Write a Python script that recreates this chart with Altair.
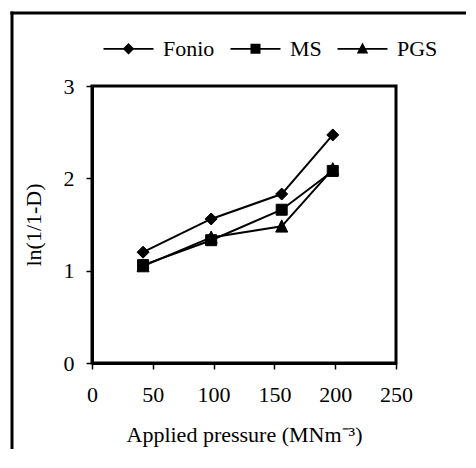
import altair as alt
import pandas as pd

series = ["Fonio", "MS", "PGS"]
pressure = [42, 98, 156, 198]
fonio = [1.20, 1.56, 1.83, 2.47]
ms = [1.06, 1.33, 1.66, 2.08]
pgs = [1.05, 1.36, 1.48, 2.10]

rows = []
for name, vals in zip(series, [fonio, ms, pgs]):
    for p, v in zip(pressure, vals):
        rows.append({"Series": name, "Pressure": p, "Value": v})
df = pd.DataFrame(rows)

FONT = "Liberation Serif"
FS = 22

x = alt.X("Pressure:Q", scale=alt.Scale(domain=[0, 250], nice=False),
          axis=alt.Axis(values=[0, 50, 100, 150, 200, 250], labelFlush=False,
                        title="Applied pressure (MNm\u207b\u00b3)"))
y = alt.Y("Value:Q", scale=alt.Scale(domain=[0, 3], nice=False),
          axis=alt.Axis(values=[0, 1, 2, 3], labelFlush=False, title="ln(1/1-D)"))

base = alt.Chart(df)

lines = base.mark_line(color="black", strokeWidth=2).encode(
    x=x, y=y, detail="Series:N", order="Pressure:Q")

pt_paths = [
    "M0,-1.2L1.2,0L0,1.2L-1.2,0Z",
    "M-1.1,-1.1L1.1,-1.1L1.1,1.1L-1.1,1.1Z",
    "M0,-1.3L1.2,1.15L-1.2,1.15Z",
]

points = base.mark_point(filled=True, fill="black", stroke="black", strokeWidth=1,
                         opacity=1, size=100).encode(
    x=x, y=y,
    shape=alt.Shape("Series:N",
                    scale=alt.Scale(domain=series, range=pt_paths),
                    legend=None))

leg_paths = [
    "M-1,-0.035L1,-0.035L1,0.035L-1,0.035ZM0,-0.23L0.23,0L0,0.23L-0.23,0Z",
    "M-1,-0.035L1,-0.035L1,0.035L-1,0.035ZM-0.2,-0.2L0.2,-0.2L0.2,0.2L-0.2,0.2Z",
    "M-1,-0.035L1,-0.035L1,0.035L-1,0.035ZM0,-0.25L0.23,0.19L-0.23,0.19Z",
]

legend_layer = base.transform_calculate(Leg="datum.Series").transform_filter(
    "datum.Value < -100").mark_point(filled=True, fill="black", stroke="black",
                                     opacity=1, strokeWidth=0.5).encode(
    x=x, y=y,
    shape=alt.Shape("Leg:N",
                    scale=alt.Scale(domain=series, range=leg_paths),
                    legend=alt.Legend(title=None, orient="none", direction="horizontal",
                                      legendX=11, legendY=-63,
                                      symbolSize=2500, symbolFillColor="black",
                                      symbolStrokeColor="black", symbolStrokeWidth=0.5,
                                      symbolOpacity=1,
                                      labelFont=FONT, labelFontSize=FS, labelColor="black",
                                      labelOffset=9, columnPadding=14, padding=0)))

one = pd.DataFrame({"a": [0]})
frame_top = alt.Chart(one).mark_rule(color="black", strokeWidth=3, clip=False).encode(
    x=alt.value(-81.5), x2=alt.value(470), y=alt.value(-73))
frame_left = alt.Chart(one).mark_rule(color="black", strokeWidth=3, clip=False).encode(
    x=alt.value(-80), y=alt.value(-74.5), y2=alt.value(470))

chart = alt.layer(frame_top, frame_left, lines, points, legend_layer).resolve_scale(
    shape="independent"
).properties(
    width=304, height=277,
    autosize=alt.AutoSizeParams(type="none"),
    padding={"left": 84, "top": 78, "right": 70, "bottom": 86},
    background="white",
).configure_view(
    stroke="black", strokeWidth=3
).configure_axis(
    grid=False, domainColor="black", domainWidth=3, tickColor="black",
    tickWidth=1.5, tickSize=6, labelFont=FONT, labelFontSize=FS, labelColor="black",
    titleFont=FONT, titleFontSize=FS, titleFontWeight="normal", titleColor="black",
).configure_axisX(labelPadding=15, titlePadding=19
).configure_axisY(labelPadding=12, titlePadding=18)

chart.save("out.html", embed_options={"renderer": "svg", "actions": False})
